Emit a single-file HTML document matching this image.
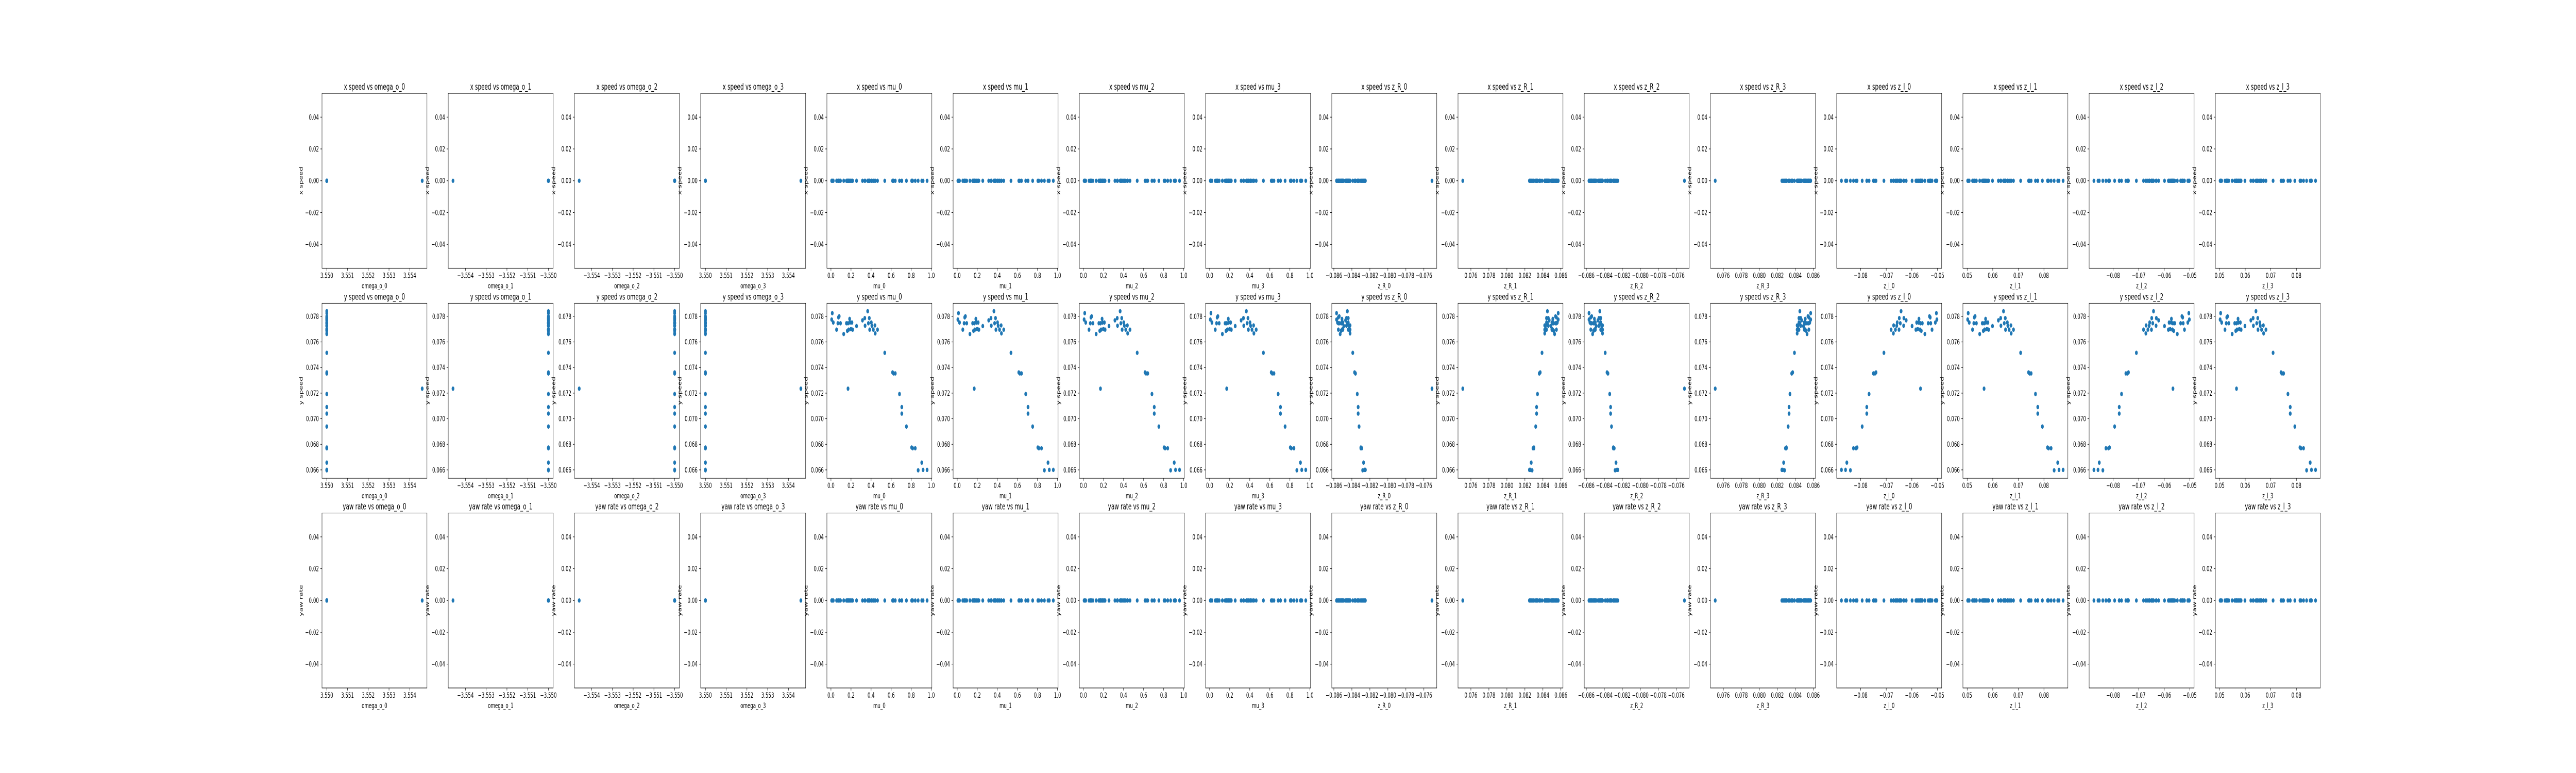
<!DOCTYPE html>
<html><head><meta charset="utf-8"><title>Scatter grid</title>
<style>
html,body{margin:0;padding:0;background:#fff;width:100%;height:100%;overflow:hidden;}
svg{display:block;width:100vw;height:100vh;font-family:"DejaVu Sans","Liberation Sans",sans-serif;}
</style></head>
<body>
<svg id="fig" viewBox="0 0 8000 1500" preserveAspectRatio="none" xmlns="http://www.w3.org/2000/svg">
<rect x="0" y="0" width="8000" height="1500" fill="#fff"/>
</svg>
<script>
// ---- data ----
const muVals = [0.007,0.013,0.023,0.056,0.069,0.075,0.082,0.095,0.127,0.154,0.163,0.170,0.176,0.186,0.190,0.199,0.209,0.216,0.255,0.314,0.337,0.340,0.366,0.373,0.382,0.386,0.402,0.408,0.422,0.438,0.441,0.464,0.170,0.536,0.614,0.624,0.641,0.683,0.706,0.706,0.752,0.804,0.814,0.840,0.869,0.905,0.918,0.958];
const ySpeed = [0.07775,0.07825,0.07752,0.07696,0.07746,0.07792,0.07800,0.07746,0.07662,0.07746,0.07687,0.07746,0.07696,0.07780,0.07752,0.07701,0.07752,0.07696,0.07724,0.07769,0.07786,0.07727,0.07840,0.07746,0.07786,0.07696,0.07752,0.07727,0.07696,0.07729,0.07667,0.07696,0.07235,0.07515,0.07362,0.07354,0.07354,0.07193,0.07091,0.07040,0.06939,0.06775,0.06769,0.06769,0.06597,0.06657,0.06600,0.06600];
const xSpeed = [0,0,0,0,0,0,0,0,0,0,0,0,0,0,0,0,0,0,0,0,0,0,0,0,0,0,0,0,0,0,0,0,0,0,0,0,0,0,0,0,0,0,0,0,0,0,0,0];
const yawRate = [0,0,0,0,0,0,0,0,0,0,0,0,0,0,0,0,0,0,0,0,0,0,0,0,0,0,0,0,0,0,0,0,0,0,0,0,0,0,0,0,0,0,0,0,0,0,0,0];
const omegaPos = [3.5500,3.5500,3.5500,3.5500,3.5500,3.5500,3.5500,3.5500,3.5500,3.5500,3.5500,3.5500,3.5500,3.5500,3.5500,3.5500,3.5500,3.5500,3.5500,3.5500,3.5500,3.5500,3.5500,3.5500,3.5500,3.5500,3.5500,3.5500,3.5500,3.5500,3.5500,3.5500,3.5546,3.5500,3.5500,3.5500,3.5500,3.5500,3.5500,3.5500,3.5500,3.5500,3.5500,3.5500,3.5500,3.5500,3.5500,3.5500];
const omegaNeg = [-3.5500,-3.5500,-3.5500,-3.5500,-3.5500,-3.5500,-3.5500,-3.5500,-3.5500,-3.5500,-3.5500,-3.5500,-3.5500,-3.5500,-3.5500,-3.5500,-3.5500,-3.5500,-3.5500,-3.5500,-3.5500,-3.5500,-3.5500,-3.5500,-3.5500,-3.5500,-3.5500,-3.5500,-3.5500,-3.5500,-3.5500,-3.5500,-3.5546,-3.5500,-3.5500,-3.5500,-3.5500,-3.5500,-3.5500,-3.5500,-3.5500,-3.5500,-3.5500,-3.5500,-3.5500,-3.5500,-3.5500,-3.5500];
const zRPos = [0.0857,0.0857,0.0856,0.0855,0.0855,0.0855,0.0854,0.0854,0.0853,0.0852,0.0852,0.0851,0.0851,0.0851,0.0851,0.0850,0.0850,0.0850,0.0849,0.0847,0.0846,0.0846,0.0845,0.0845,0.0844,0.0844,0.0844,0.0843,0.0843,0.0842,0.0842,0.0842,0.0751,0.0839,0.0837,0.0836,0.0836,0.0834,0.0833,0.0833,0.0832,0.0830,0.0830,0.0829,0.0828,0.0827,0.0826,0.0825];
const zRNeg = [-0.0857,-0.0857,-0.0856,-0.0855,-0.0855,-0.0855,-0.0854,-0.0854,-0.0853,-0.0852,-0.0852,-0.0851,-0.0851,-0.0851,-0.0851,-0.0850,-0.0850,-0.0850,-0.0849,-0.0847,-0.0846,-0.0846,-0.0845,-0.0845,-0.0844,-0.0844,-0.0844,-0.0843,-0.0843,-0.0842,-0.0842,-0.0842,-0.0751,-0.0839,-0.0837,-0.0836,-0.0836,-0.0834,-0.0833,-0.0833,-0.0832,-0.0830,-0.0830,-0.0829,-0.0828,-0.0827,-0.0826,-0.0825];
const zlPos = [0.0502,0.0504,0.0508,0.0521,0.0526,0.0528,0.0531,0.0536,0.0549,0.0559,0.0563,0.0566,0.0568,0.0572,0.0573,0.0577,0.0581,0.0584,0.0599,0.0622,0.0631,0.0632,0.0642,0.0645,0.0649,0.0650,0.0657,0.0659,0.0664,0.0671,0.0672,0.0681,0.0566,0.0709,0.0740,0.0744,0.0750,0.0767,0.0776,0.0776,0.0794,0.0814,0.0818,0.0828,0.0840,0.0854,0.0859,0.0875];
const zlNeg = [-0.0502,-0.0504,-0.0508,-0.0521,-0.0526,-0.0528,-0.0531,-0.0536,-0.0549,-0.0559,-0.0563,-0.0566,-0.0568,-0.0572,-0.0573,-0.0577,-0.0581,-0.0584,-0.0599,-0.0622,-0.0631,-0.0632,-0.0642,-0.0645,-0.0649,-0.0650,-0.0657,-0.0659,-0.0664,-0.0671,-0.0672,-0.0681,-0.0566,-0.0709,-0.0740,-0.0744,-0.0750,-0.0767,-0.0776,-0.0776,-0.0794,-0.0814,-0.0818,-0.0828,-0.0840,-0.0854,-0.0859,-0.0875];

const ticksOmegaPos = [3.550,3.551,3.552,3.553,3.554];
const ticksOmegaNeg = [-3.554,-3.553,-3.552,-3.551,-3.550];
const ticksMu = [0.0,0.2,0.4,0.6,0.8,1.0];
const ticksZRNeg = [-0.086,-0.084,-0.082,-0.080,-0.078,-0.076];
const ticksZRPos = [0.076,0.078,0.080,0.082,0.084,0.086];
const ticksZlNeg = [-0.08,-0.07,-0.06,-0.05];
const ticksZlPos = [0.05,0.06,0.07,0.08];
const ticksYSpeed = [0.066,0.068,0.070,0.072,0.074,0.076,0.078];
const ticksZero = [-0.04,-0.02,0.00,0.02,0.04];

const colNames = ["omega_o_0","omega_o_1","omega_o_2","omega_o_3","mu_0","mu_1","mu_2","mu_3","z_R_0","z_R_1","z_R_2","z_R_3","z_l_0","z_l_1","z_l_2","z_l_3"];
const colX = [omegaPos,omegaNeg,omegaNeg,omegaPos,muVals,muVals,muVals,muVals,zRNeg,zRPos,zRNeg,zRPos,zlNeg,zlPos,zlNeg,zlPos];
const colTicks = [ticksOmegaPos,ticksOmegaNeg,ticksOmegaNeg,ticksOmegaPos,ticksMu,ticksMu,ticksMu,ticksMu,ticksZRNeg,ticksZRPos,ticksZRNeg,ticksZRPos,ticksZlNeg,ticksZlPos,ticksZlNeg,ticksZlPos];
const colDec = [3,3,3,3,1,1,1,1,3,3,3,3,2,2,2,2];
const rowNames = ["x speed","y speed","yaw rate"];
const rowY = [xSpeed,ySpeed,yawRate];
const rowTicks = [ticksZero,ticksYSpeed,ticksZero];
const rowDec = [2,3,2];

// ---- layout ----
const NS = "http://www.w3.org/2000/svg";
const svg = document.getElementById("fig");
const L0 = 1000, PITCH = 392, AW = 326;
const TOPS = [181, 588.5, 995.5], AH = 339.5;

function el(tag, attrs, parent){
  const e = document.createElementNS(NS, tag);
  for (const k in attrs) e.setAttribute(k, attrs[k]);
  (parent||svg).appendChild(e);
  return e;
}
function autoLim(arr){
  let lo = Math.min(...arr), hi = Math.max(...arr);
  if (hi - lo < 1e-12) return [-0.055, 0.055];
  const m = (hi - lo) * 0.05;
  return [lo - m, hi + m];
}
function fmt(v, d){
  const s = Math.abs(v).toFixed(d);
  return (v < -1e-12 ? "\u2212" : "") + s;
}

for (let r = 0; r < 3; r++){
  for (let c = 0; c < 16; c++){
    const xs = colX[c], ys = rowY[r];
    const x0 = L0 + PITCH * c, y0 = TOPS[r];
    const [xmin, xmax] = autoLim(xs);
    const [ymin, ymax] = autoLim(ys);
    const sx = v => x0 + (v - xmin) / (xmax - xmin) * AW;
    const sy = v => y0 + AH - (v - ymin) / (ymax - ymin) * AH;
    const tag = rowNames[r].replace(" ", "-") + "-vs-" + colNames[c].replace(/_/g, "-");

    const g = el("g", {});
    
    

    const pg = el("g", {fill: "#1f77b4"}, g);
    
    
    for (let i = 0; i < xs.length; i++){
      const p = el("circle", {cx: sx(xs[i]).toFixed(2), cy: sy(ys[i]).toFixed(2), r: 4.3}, pg);
      
      
    }

    const fr = el("rect", {x: x0, y: y0, width: AW, height: AH, fill: "none", stroke: "#000", "stroke-width": 1.1}, g);
    
    

    const xt = el("g", {}, g);
    
    
    colTicks[c].forEach(t => {
      const px = sx(t);
      if (px < x0 - 0.5 || px > x0 + AW + 0.5) return;
      el("line", {x1: px, x2: px, y1: y0 + AH, y2: y0 + AH + 4.9, stroke: "#000", "stroke-width": 1.1}, xt);
      const tx = el("text", {x: px, y: y0 + AH + 19, "text-anchor": "middle", "font-size": 13.9, fill: "#000"}, xt);
      tx.textContent = fmt(t, colDec[c]);
      
      
    });
    const yt = el("g", {}, g);
    
    
    rowTicks[r].forEach(t => {
      const py = sy(t);
      if (py < y0 - 0.5 || py > y0 + AH + 0.5) return;
      el("line", {x1: x0 - 4.9, x2: x0, y1: py, y2: py, stroke: "#000", "stroke-width": 1.1}, yt);
      const ty = el("text", {x: x0 - 9.8, y: py + 5, "text-anchor": "end", "font-size": 13.9, fill: "#000"}, yt);
      ty.textContent = fmt(t, rowDec[r]);
      
      
    });

    const tt = el("text", {x: x0 + AW / 2, y: y0 - 7, "text-anchor": "middle", "font-size": 16.7, fill: "#000"}, g);
    tt.textContent = rowNames[r] + " vs " + colNames[c];
    
    

    const xl = el("text", {x: x0 + AW / 2, y: y0 + AH + 39, "text-anchor": "middle", "font-size": 13.9, fill: "#000"}, g);
    xl.textContent = colNames[c];
    
    

    const lx = x0 - 60, ly = y0 + AH / 2;
    const yl = el("text", {x: lx, y: ly, "text-anchor": "middle", "font-size": 13.9, fill: "#000", transform: "rotate(-90 " + lx + " " + ly + ")"}, g);
    yl.textContent = rowNames[r];
    
    
  }
}
</script>
</body></html>
